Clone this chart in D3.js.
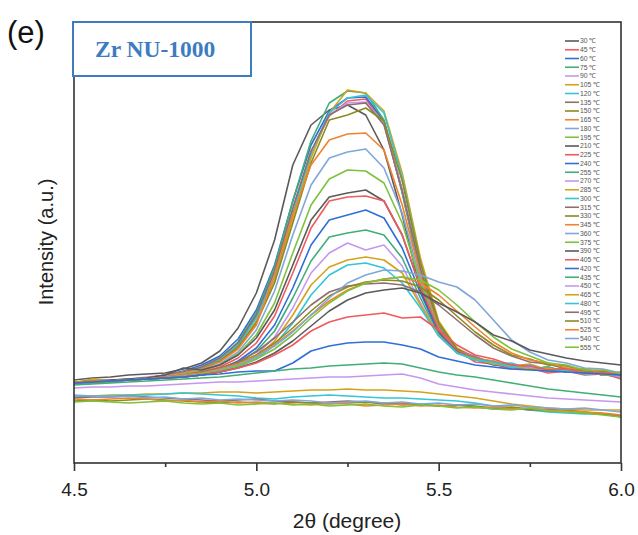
<!DOCTYPE html>
<html>
<head>
<meta charset="utf-8">
<script src="https://cdn.jsdelivr.net/npm/d3@7"></script>
<style>
  body { margin: 0; background: #fff; }
</style>
</head>
<body>
<svg width="638" height="535"></svg>
<script>
// temperatures (°C), one curve each
const temps = [30, 45, 60, 75, 90, 105, 120, 135, 150, 165, 180, 195,
  210, 225, 240, 255, 270, 285, 300, 315, 330, 345, 360, 375,
  390, 405, 420, 435, 450, 465, 480, 495, 510, 525, 540, 555];

// 2-theta sampling points (degree)
const twoTheta = [4.50, 4.55, 4.60, 4.65, 4.70, 4.75, 4.80, 4.85, 4.90, 4.95,
  5.00, 5.05, 5.10, 5.15, 5.20, 5.25, 5.30, 5.35, 5.40, 5.45,
  5.50, 5.55, 5.60, 5.65, 5.70, 5.75, 5.80, 5.85, 5.90, 5.95, 6.00];

// intensity (a.u.), one row per temperature
const intensity = [
  [83, 85, 86, 88, 89, 90, 94, 100, 112, 135, 170, 223, 298, 338, 353, 358, 348, 313, 248, 173, 128, 113, 105, 101, 97, 95, 93, 92, 90, 89, 87], // 30
  [79, 80, 82, 83, 85, 87, 91, 96, 105, 120, 148, 191, 253, 311, 347, 362, 364, 340, 271, 191, 135, 113, 101, 99, 94, 95, 90, 92, 88, 89, 85], // 45
  [80, 81, 81, 83, 85, 88, 92, 98, 107, 124, 153, 198, 262, 318, 352, 365, 366, 342, 272, 192, 134, 110, 104, 98, 97, 94, 95, 91, 92, 88, 90], // 60
  [79, 80, 82, 83, 84, 87, 91, 96, 105, 121, 150, 196, 262, 322, 360, 372, 370, 343, 270, 188, 132, 111, 103, 100, 96, 97, 92, 93, 89, 90, 86], // 75
  [81, 82, 83, 84, 86, 88, 91, 96, 104, 119, 146, 189, 250, 308, 348, 360, 361, 340, 273, 193, 137, 113, 106, 99, 98, 94, 96, 91, 93, 88, 89], // 90
  [80, 84, 82, 83, 85, 87, 90, 94, 102, 116, 142, 183, 245, 305, 350, 373, 370, 352, 290, 205, 142, 115, 105, 102, 97, 99, 93, 95, 90, 92, 86], // 105
  [80, 81, 82, 83, 85, 87, 90, 95, 103, 118, 145, 187, 250, 310, 350, 365, 368, 350, 285, 200, 138, 113, 104, 99, 100, 94, 96, 91, 94, 88, 91], // 120
  [80, 81, 82, 84, 85, 88, 91, 96, 105, 120, 148, 192, 255, 312, 348, 358, 360, 338, 272, 194, 136, 112, 104, 101, 96, 97, 93, 94, 90, 91, 87], // 135
  [80, 81, 82, 83, 85, 87, 90, 94, 102, 116, 140, 180, 240, 300, 343, 348, 355, 342, 282, 200, 140, 114, 106, 99, 98, 94, 95, 91, 92, 88, 89], // 150
  [80, 81, 82, 83, 85, 87, 90, 94, 101, 114, 138, 188, 248, 298, 323, 329, 330, 313, 258, 188, 135, 112, 104, 102, 96, 98, 92, 94, 89, 90, 85], // 165
  [80, 81, 82, 83, 85, 87, 89, 93, 99, 111, 133, 172, 228, 278, 305, 311, 314, 295, 250, 183, 133, 112, 107, 99, 99, 94, 96, 91, 93, 88, 90], // 180
  [80, 81, 81, 83, 84, 86, 89, 92, 98, 109, 128, 160, 210, 258, 284, 293, 292, 280, 240, 180, 133, 112, 104, 100, 96, 97, 92, 94, 89, 91, 86], // 195
  [81, 82, 83, 84, 85, 88, 95, 93, 98, 108, 125, 153, 198, 243, 266, 270, 273, 262, 228, 175, 132, 112, 104, 99, 98, 94, 95, 91, 92, 88, 89], // 210
  [80, 81, 82, 83, 84, 86, 88, 91, 96, 105, 120, 147, 190, 235, 262, 266, 267, 262, 228, 176, 133, 112, 106, 99, 97, 95, 92, 93, 89, 90, 84], // 225
  [80, 81, 82, 83, 84, 85, 87, 90, 94, 102, 115, 138, 175, 218, 243, 248, 253, 245, 215, 170, 130, 111, 103, 101, 96, 97, 92, 94, 89, 91, 88], // 240
  [80, 81, 82, 83, 84, 85, 87, 89, 93, 100, 112, 132, 165, 202, 226, 230, 233, 228, 205, 165, 128, 110, 105, 99, 98, 94, 96, 91, 93, 88, 87], // 255
  [80, 81, 82, 83, 84, 85, 86, 88, 92, 98, 108, 126, 155, 190, 210, 220, 213, 218, 197, 160, 127, 110, 103, 100, 96, 96, 92, 94, 89, 90, 86], // 270
  [80, 81, 82, 83, 84, 85, 86, 88, 91, 97, 106, 122, 148, 178, 196, 203, 206, 203, 190, 158, 128, 110, 104, 99, 97, 94, 95, 91, 92, 88, 89], // 285
  [80, 81, 82, 83, 84, 85, 86, 88, 91, 96, 104, 118, 140, 168, 188, 198, 200, 195, 180, 155, 127, 110, 103, 101, 96, 98, 92, 93, 89, 90, 87], // 300
  [80, 81, 82, 83, 84, 86, 88, 91, 95, 101, 111, 125, 141, 158, 171, 177, 179, 180, 178, 171, 158, 143, 128, 115, 107, 101, 99, 94, 94, 90, 90], // 315
  [80, 81, 82, 83, 84, 85, 87, 90, 94, 100, 108, 120, 135, 152, 167, 176, 181, 183, 182, 176, 163, 147, 131, 118, 108, 104, 98, 97, 92, 92, 88], // 330
  [81, 82, 82, 83, 84, 86, 88, 90, 94, 99, 107, 118, 132, 148, 162, 173, 180, 184, 186, 180, 168, 152, 136, 121, 110, 103, 100, 95, 94, 90, 91], // 345
  [80, 81, 82, 83, 84, 85, 87, 89, 93, 98, 106, 117, 131, 148, 165, 180, 188, 193, 192, 188, 181, 176, 163, 143, 123, 111, 103, 100, 95, 94, 90], // 360
  [80, 81, 82, 83, 84, 85, 86, 89, 92, 97, 104, 114, 128, 145, 160, 172, 180, 184, 186, 183, 173, 158, 141, 126, 114, 107, 100, 98, 93, 93, 89], // 375
  [80, 81, 82, 83, 84, 85, 86, 88, 91, 95, 101, 110, 122, 137, 152, 163, 170, 173, 175, 170, 160, 151, 141, 128, 122, 113, 109, 105, 102, 100, 98], // 390
  [80, 81, 82, 83, 84, 85, 86, 88, 91, 95, 100, 108, 118, 132, 141, 146, 148, 150, 145, 146, 133, 118, 108, 104, 98, 97, 93, 94, 90, 91, 88], // 405
  [80, 81, 82, 83, 84, 85, 86, 88, 89, 91, 92, 92, 100, 112, 117, 120, 121, 121, 118, 114, 106, 102, 98, 96, 94, 93, 92, 91, 90, 89, 88], // 420
  [78, 79, 80, 81, 82, 83, 84, 85, 86, 88, 90, 92, 94, 95, 97, 98, 99, 100, 99, 95, 91, 88, 86, 83, 80, 77, 74, 72, 70, 68, 66], // 435
  [75, 76, 76, 77, 77, 78, 79, 80, 81, 81, 82, 83, 84, 85, 86, 86, 87, 88, 89, 85, 79, 76, 73, 71, 69, 67, 65, 64, 63, 62, 61], // 450
  [67, 67, 68, 68, 69, 69, 70, 70, 71, 71, 70, 71, 72, 73, 73, 74, 73, 73, 72, 71, 69, 67, 65, 62, 59, 57, 55, 54, 53, 53, 53], // 465
  [66, 67, 67, 68, 68, 69, 70, 69, 68, 67, 65, 64, 66, 67, 68, 67, 66, 65, 65, 64, 63, 62, 60, 57, 55, 53, 51, 50, 49, 49, 48], // 480
  [65, 66, 66, 67, 66, 65, 64, 63, 62, 63, 64, 62, 61, 60, 61, 62, 61, 59, 60, 58, 57, 58, 56, 54, 55, 53, 54, 52, 50, 49, 47], // 495
  [62, 63, 62, 63, 64, 63, 62, 61, 60, 61, 60, 59, 61, 60, 59, 60, 61, 60, 58, 59, 57, 58, 57, 55, 56, 54, 52, 53, 51, 49, 46], // 510
  [64, 63, 64, 65, 64, 62, 63, 61, 62, 60, 61, 60, 59, 58, 60, 59, 57, 58, 59, 57, 58, 56, 55, 56, 54, 55, 53, 52, 51, 50, 48], // 525
  [68, 67, 66, 67, 65, 66, 64, 65, 63, 64, 63, 62, 63, 62, 60, 61, 62, 60, 61, 59, 60, 58, 59, 57, 58, 56, 55, 54, 55, 53, 51], // 540
  [61, 62, 61, 60, 61, 62, 60, 59, 60, 58, 59, 60, 58, 59, 57, 58, 59, 57, 56, 58, 57, 55, 56, 54, 53, 55, 52, 51, 50, 48, 46]  // 555
];

const xTicks = [4.5, 5.0, 5.5, 6.0];
const xMinorTicks = [4.75, 5.25, 5.75];

// the 12-colour cycle used by the plot
const palette = ['#5a5a5a', '#ef5a5e', '#2f6fd6', '#3fae78', '#c597ee', '#d4a21c',
  '#32c6d6', '#8e6f70', '#8c8b1e', '#f3822f', '#7fa7da', '#7dc23b'];

const sans = '"Liberation Sans", Arial, sans-serif';
const serif = '"Liberation Serif", "Times New Roman", serif';

const svg = d3.select('svg');
const plotL = 74, plotR = 621, plotT = 22, plotB = 463;

const x = d3.scaleLinear().domain([4.5, 6.0]).range([plotL, plotR]);
const y = d3.scaleLinear().domain([0, 441]).range([plotB, plotT]);

svg.append('defs').append('clipPath').attr('id', 'plot')
  .append('rect').attr('x', plotL).attr('y', plotT)
  .attr('width', plotR - plotL).attr('height', plotB - plotT);

// curves
const line = d3.line()
  .x((d, i) => x(twoTheta[i]))
  .y(d => y(d));

svg.append('g').attr('clip-path', 'url(#plot)')
  .selectAll('path').data(intensity)
  .enter().append('path')
    .attr('d', line)
    .attr('fill', 'none')
    .attr('stroke', (d, i) => palette[i % palette.length])
    .attr('stroke-width', 1.6)
    .attr('stroke-linejoin', 'round');

// frame
svg.append('rect')
  .attr('x', plotL).attr('y', plotT)
  .attr('width', plotR - plotL).attr('height', plotB - plotT)
  .attr('fill', 'none').attr('stroke', '#333').attr('stroke-width', 1.6);

// x axis, major and minor ticks pointing out
const xAxis = svg.append('g').attr('transform', `translate(0,${plotB})`)
  .call(d3.axisBottom(x).tickValues(xTicks).tickFormat(d3.format('.1f'))
    .tickSize(8).tickPadding(12));
xAxis.select('.domain').remove();
xAxis.selectAll('line').attr('stroke', '#333').attr('stroke-width', 1.6);
xAxis.selectAll('text').attr('fill', '#222')
  .style('font-family', sans).style('font-size', '19px');

const minor = svg.append('g').attr('transform', `translate(0,${plotB})`)
  .call(d3.axisBottom(x).tickValues(xMinorTicks).tickFormat('').tickSize(4));
minor.select('.domain').remove();
minor.selectAll('line').attr('stroke', '#333').attr('stroke-width', 1.6);

// axis titles
svg.append('text')
  .attr('x', 347).attr('y', 528)
  .attr('text-anchor', 'middle').attr('fill', '#222')
  .style('font-family', sans).style('font-size', '21px')
  .text('2θ (degree)');

svg.append('text')
  .attr('transform', 'translate(53,242) rotate(-90)')
  .attr('text-anchor', 'middle').attr('fill', '#222')
  .style('font-family', sans).style('font-size', '20px')
  .text('Intensity (a.u.)');

// panel letter
svg.append('text')
  .attr('x', 7).attr('y', 43).attr('fill', '#111')
  .style('font-family', sans).style('font-size', '31px')
  .text('(e)');

// sample label box
svg.append('rect')
  .attr('x', 73).attr('y', 22).attr('width', 178).attr('height', 54)
  .attr('fill', '#fff').attr('stroke', '#3d7cc1').attr('stroke-width', 2);
svg.append('text')
  .attr('x', 95).attr('y', 57).attr('fill', '#3d7cc1')
  .style('font-family', serif).style('font-weight', 'bold').style('font-size', '23.5px')
  .text('Zr NU-1000');

// legend
const legend = svg.append('g');
const rowH = 8.75;
temps.forEach((t, i) => {
  const ly = 41 + i * rowH;
  legend.append('line')
    .attr('x1', 565).attr('x2', 579).attr('y1', ly).attr('y2', ly)
    .attr('stroke', palette[i % palette.length]).attr('stroke-width', 1.6);
  legend.append('text')
    .attr('x', 580).attr('y', ly + 2.4).attr('fill', '#555')
    .style('font-family', sans).style('font-size', '6.8px')
    .text(`${t} ℃`);
});
</script>
</body>
</html>
